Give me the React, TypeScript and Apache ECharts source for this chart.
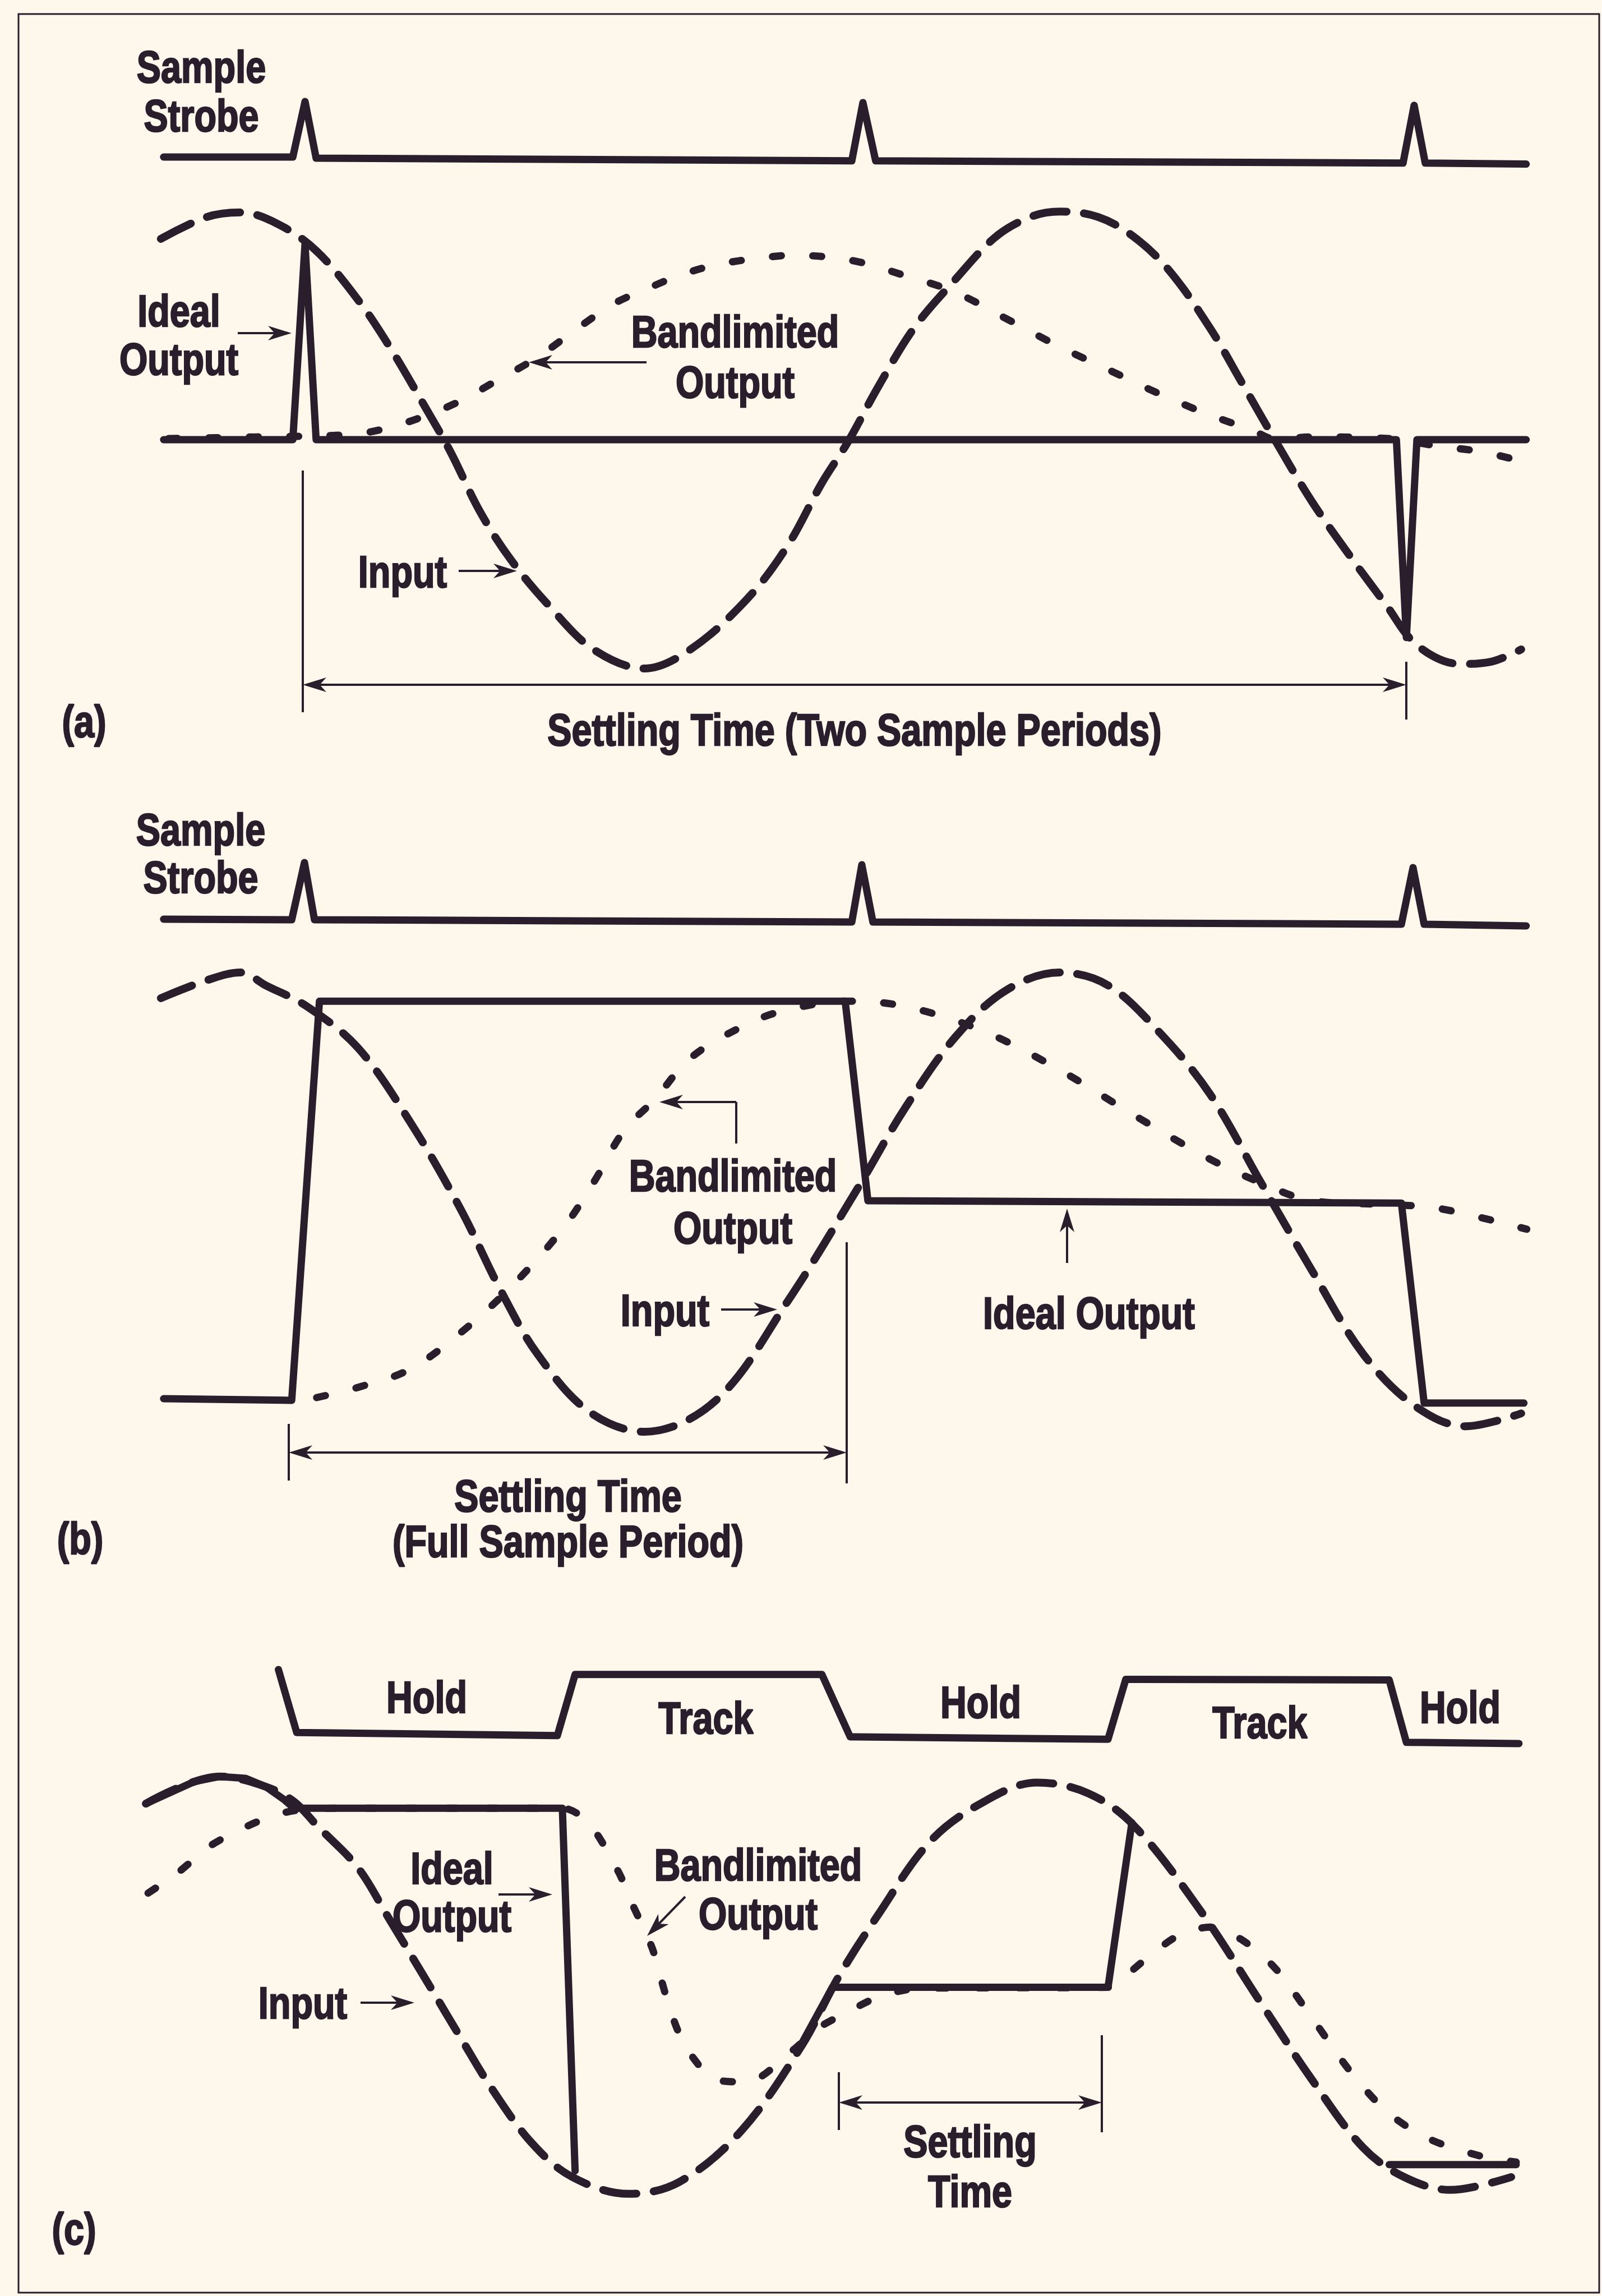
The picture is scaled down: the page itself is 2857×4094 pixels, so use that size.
import React, { useEffect, useRef } from 'react';
import * as echarts from 'echarts';

const W = 2857;
const H = 4094;
const INK = '#2b1e2c';
const PAPER = '#fdf7ec';
const FONT_FAMILY = '"Liberation Sans", Arial, sans-serif';
const FONT_SIZE = 79;
const CONDENSE = 0.82;

// Time in sample periods (sample strobes at t = 0, 1, 2); amplitude normalised to the input.
const T_MIN = -0.5;
const T_MAX = 2.3;

// ---------- Panel (a): settling time of two sample periods ----------
const strobeA = [[-0.254, 0], [-0.021, 0], [0.001, 1.02], [0.021, -0.02], [0.987, -0.07], [1.007, 1.0], [1.03, -0.07], [1.981, -0.11], [2.001, 0.95], [2.021, -0.11], [2.203, -0.13]];
const inputA = [[-0.259, 0.882], [-0.176, 0.978], [-0.115, 0.998], [-0.047, 0.946], [0.022, 0.828], [0.096, 0.616], [0.152, 0.414], [0.216, 0.15], [0.263, -0.052], [0.317, -0.318], [0.373, -0.53], [0.442, -0.732], [0.521, -0.921], [0.613, -1.005], [0.696, -0.921], [0.798, -0.7], [0.871, -0.466], [0.933, -0.19], [0.98, -0.01], [1.035, 0.234], [1.099, 0.49], [1.173, 0.702], [1.247, 0.892], [1.311, 0.98], [1.362, 1.002], [1.431, 0.978], [1.495, 0.892], [1.559, 0.744], [1.633, 0.49], [1.689, 0.256], [1.752, -0.01], [1.817, -0.273], [1.891, -0.53], [1.955, -0.741], [1.992, -0.869], [2.037, -0.953], [2.084, -0.985], [2.14, -0.975], [2.194, -0.921]];
const bandlimitedA = [[-0.245, 0.005], [-0.088, 0.012], [0.078, 0.022], [0.143, 0.047], [0.216, 0.103], [0.281, 0.17], [0.337, 0.246], [0.42, 0.362], [0.493, 0.49], [0.557, 0.596], [0.613, 0.658], [0.677, 0.722], [0.742, 0.768], [0.816, 0.796], [0.881, 0.81], [0.989, 0.786], [1.081, 0.722], [1.173, 0.648], [1.265, 0.532], [1.357, 0.414], [1.449, 0.308], [1.541, 0.202], [1.633, 0.108], [1.707, 0.044], [1.752, 0.002], [1.817, 0.012], [1.955, 0.005], [2.048, -0.03], [2.12, -0.052], [2.194, -0.094]];
const idealA = [[-0.254, 0], [-0.021, 0], [0.001, 0.86], [0.021, 0], [1.969, 0], [1.987, -0.869], [2.006, 0], [2.203, 0]];

// ---------- Panel (b): settling time of a full sample period ----------
const strobeB = [[-0.254, 0.04], [-0.023, 0.03], [0.0, 1.05], [0.018, 0.03], [0.987, -0.01], [1.005, 1.01], [1.025, -0.01], [1.978, -0.05], [1.999, 0.96], [2.019, -0.05], [2.203, -0.08]];
const inputB = [[-0.259, 0.888], [-0.176, 0.966], [-0.115, 1.0], [-0.07, 0.944], [0.004, 0.853], [0.096, 0.673], [0.189, 0.355], [0.281, -0.028], [0.355, -0.39], [0.42, -0.661], [0.512, -0.91], [0.613, -1.0], [0.742, -0.863], [0.871, -0.433], [0.998, 0.062], [1.081, 0.402], [1.173, 0.717], [1.265, 0.922], [1.362, 1.0], [1.449, 0.944], [1.541, 0.741], [1.633, 0.47], [1.725, 0.084], [1.817, -0.299], [1.909, -0.661], [2.001, -0.885], [2.093, -0.976], [2.194, -0.92]];
const bandlimitedB = [[0.022, -0.851], [0.096, -0.807], [0.189, -0.729], [0.281, -0.57], [0.373, -0.368], [0.465, -0.118], [0.521, 0.084], [0.576, 0.311], [0.631, 0.446], [0.696, 0.627], [0.788, 0.763], [0.862, 0.832], [0.98, 0.875], [1.081, 0.853], [1.218, 0.751], [1.357, 0.582], [1.495, 0.38], [1.633, 0.187], [1.725, 0.084], [1.817, 0.006], [1.959, -0.011], [2.047, -0.028], [2.204, -0.118]];
const idealB = [[-0.254, -0.856], [-0.023, -0.863], [0.027, 0.875], [0.975, 0.875], [1.016, 0.006], [1.978, -0.004], [2.019, -0.875], [2.199, -0.875]];

// ---------- Panel (c): track-and-hold ----------
const trackHoldC = [[-0.047, 1.11], [-0.014, 0.08], [0.456, 0.03], [0.488, 1.03], [0.933, 1.03], [0.984, 0.01], [1.449, -0.03], [1.481, 0.95], [1.956, 0.94], [1.987, -0.08], [2.19, -0.1]];
const inputC = [[-0.286, 0.876], [-0.153, 1.007], [-0.07, 0.958], [-0.019, 0.886], [0.022, 0.772], [0.096, 0.568], [0.152, 0.323], [0.226, -0.005], [0.281, -0.251], [0.337, -0.496], [0.41, -0.762], [0.483, -0.926], [0.585, -1.007], [0.677, -0.948], [0.788, -0.702], [0.897, -0.29], [0.962, 0.035], [1.035, 0.342], [1.127, 0.69], [1.219, 0.876], [1.321, 0.978], [1.413, 0.926], [1.495, 0.772], [1.615, 0.362], [1.725, -0.087], [1.817, -0.457], [1.909, -0.784], [1.983, -0.926], [2.066, -0.988], [2.176, -0.926]];
const bandlimitedC = [[-0.282, 0.444], [-0.226, 0.548], [-0.171, 0.67], [-0.115, 0.752], [-0.061, 0.814], [-0.014, 0.844], [0.058, 0.854], [0.465, 0.854], [0.512, 0.784], [0.566, 0.548], [0.589, 0.404], [0.627, 0.179], [0.65, -0.035], [0.672, -0.211], [0.696, -0.333], [0.742, -0.457], [0.797, -0.467], [0.881, -0.313], [0.924, -0.211], [0.98, -0.129], [1.035, -0.057], [1.109, -0.015], [1.449, -0.01], [1.467, 0.015], [1.523, 0.139], [1.577, 0.241], [1.633, 0.28], [1.689, 0.221], [1.752, 0.077], [1.817, -0.159], [1.891, -0.434], [1.956, -0.62], [2.028, -0.742], [2.12, -0.824], [2.185, -0.854]];
const idealC1 = [[-0.286, 0.876], [-0.245, 0.926], [-0.198, 0.983], [-0.153, 1.007], [-0.106, 0.998], [-0.07, 0.958], [-0.037, 0.896], [-0.019, 0.854], [0.465, 0.854], [0.488, -0.896]];
const idealC2 = [[0.897, -0.28], [0.952, -0.01], [1.449, -0.01], [1.492, 0.784]];
const idealC3 = [[1.956, -0.866], [2.185, -0.866]];

// ---------- Labels: [text, centre x, centre y, line spacing] ----------
const labelsA = [['Sample\nStrobe', 359, 163, 87], ['Ideal\nOutput', 319, 598, 86], ['Bandlimited\nOutput', 1311, 637, 90], ['Input', 718, 1020, 0], ['(a)', 150, 1287, 0], ['Settling Time (Two Sample Periods)', 1524, 1302, 0]];
const labelsB = [['Sample\nStrobe', 358, 1522, 85], ['Bandlimited\nOutput', 1307, 2143, 93], ['Input', 1186, 2337, 0], ['Ideal Output', 1942, 2342, 0], ['Settling Time\n(Full Sample Period)', 1013, 2708, 81], ['(b)', 143, 2744, 0]];
const labelsC = [['Hold', 761, 3027, 0], ['Track', 1259, 3064, 0], ['Hold', 1749, 3036, 0], ['Track', 2247, 3072, 0], ['Hold', 2604, 3045, 0], ['Ideal\nOutput', 806, 3374, 85], ['Bandlimited\nOutput', 1352, 3369, 87], ['Input', 540, 3572, 0], ['(c)', 132, 3975, 0], ['Settling\nTime', 1730, 3863, 89]];

// pointer arrows: [x1, y1, x2, y2, headAtStart, headAtEnd]
const arrows = [
  [424, 594, 520, 594, false, true],
  [1153, 646, 943, 646, false, true],
  [818, 1018, 922, 1018, false, true],
  [540, 1221, 2508, 1221, true, true],
  [1313, 1965, 1176, 1965, false, true],
  [1286, 2335, 1386, 2335, false, true],
  [1903, 2252, 1903, 2155, false, true],
  [515, 2590, 1510, 2590, true, true],
  [889, 3378, 985, 3378, false, true],
  [1222, 3382, 1154, 3452, false, true],
  [643, 3571, 739, 3571, false, true],
  [1496, 3749, 1965, 3749, true, true],
];
// plain thin lines (dimension ticks, bent leader)
const thinLines = [
  [540, 839, 540, 1270],
  [2508, 1180, 2508, 1283],
  [1313, 2039, 1313, 1965],
  [515, 2539, 515, 2640],
  [1510, 2215, 1510, 2645],
  [1496, 3695, 1496, 3798],
  [1965, 3629, 1965, 3802],
];

const GRID_LEFT = 48.5;
const GRID_WIDTH = 2769.2;
const gridLayout = [
  { top: 86, height: 291, min: -1, max: 2 },
  { top: 175, height: 1218, min: -1.5, max: 1.5 },
  { top: 1443, height: 300, min: -1, max: 2 },
  { top: 1529.25, height: 1228.5, min: -1.5, max: 1.5 },
  { top: 2880, height: 327, min: -1, max: 2 },
  { top: 2985.5, height: 1209, min: -1.5, max: 1.5 },
];

function arrowEls(a: any[]) {
  const [x1, y1, x2, y2, hs, he] = a;
  const dx = x2 - x1, dy = y2 - y1;
  const L = Math.hypot(dx, dy);
  const ux = dx / L, uy = dy / L;
  const px = -uy, py = ux;
  const hl = 42, hw = 13;
  const els: any[] = [];
  let sx = x1, sy = y1, ex = x2, ey = y2;
  const head = (tx: number, ty: number, vx: number, vy: number) => ({
    type: 'polygon',
    silent: true,
    shape: {
      points: [
        [tx, ty],
        [tx - vx * hl + px * hw, ty - vy * hl + py * hw],
        [tx - vx * hl * 0.72, ty - vy * hl * 0.72],
        [tx - vx * hl - px * hw, ty - vy * hl - py * hw],
      ],
    },
    style: { fill: INK },
  });
  if (he) {
    els.push(head(x2, y2, ux, uy));
    ex = x2 - ux * hl * 0.6;
    ey = y2 - uy * hl * 0.6;
  }
  if (hs) {
    els.push(head(x1, y1, -ux, -uy));
    sx = x1 + ux * hl * 0.6;
    sy = y1 + uy * hl * 0.6;
  }
  els.push({ type: 'line', silent: true, shape: { x1: sx, y1: sy, x2: ex, y2: ey }, style: { stroke: INK, lineWidth: 4 } });
  return els;
}

export default function App() {
  const ref = useRef<HTMLDivElement>(null);
  useEffect(() => {
    if (!ref.current) return;
    const chart = echarts.init(ref.current, undefined, { renderer: 'svg', width: W, height: H });

    const solid = { color: INK, width: 13, cap: 'round', join: 'round' };
    const dashed = { color: INK, width: 14, type: [60, 31], cap: 'round', join: 'round' };
    const dotted = { color: INK, width: 13, type: [16, 56], cap: 'round', join: 'round' };

    const mk = (idx: number, data: number[][], lineStyle: any, smooth: any = false) => ({
      type: 'line',
      xAxisIndex: idx,
      yAxisIndex: idx,
      data,
      smooth,
      showSymbol: false,
      symbol: 'none',
      clip: false,
      silent: true,
      lineStyle,
    });

    const texts = [...labelsA, ...labelsB, ...labelsC].map((l: any) => ({
      type: 'text',
      silent: true,
      x: l[1],
      y: l[2],
      scaleX: CONDENSE,
      style: {
        text: l[0],
        fill: INK,
        stroke: INK,
        lineWidth: 2.5,
        fontFamily: FONT_FAMILY,
        fontWeight: 'bold',
        fontSize: FONT_SIZE,
        lineHeight: l[3] || FONT_SIZE,
        align: 'center',
        verticalAlign: 'middle',
      },
    }));

    const graphic: any[] = [
      { type: 'rect', silent: true, shape: { x: 33, y: 25, width: 2819, height: 4063 }, style: { fill: 'none', stroke: INK, lineWidth: 3 } },
      ...thinLines.map((t) => ({ type: 'line', silent: true, shape: { x1: t[0], y1: t[1], x2: t[2], y2: t[3] }, style: { stroke: INK, lineWidth: 4 } })),
      ...arrows.flatMap((a) => arrowEls(a)),
      ...texts,
    ];

    chart.setOption({
      animation: false,
      backgroundColor: PAPER,
      grid: gridLayout.map((g) => ({ left: GRID_LEFT, width: GRID_WIDTH, top: g.top, height: g.height })),
      xAxis: gridLayout.map((g, i) => ({ type: 'value', gridIndex: i, min: T_MIN, max: T_MAX, show: false, splitLine: { show: false } })),
      yAxis: gridLayout.map((g, i) => ({ type: 'value', gridIndex: i, min: g.min, max: g.max, show: false, splitLine: { show: false } })),
      series: [
        mk(0, strobeA, solid),
        mk(1, bandlimitedA, dotted, 0.35),
        mk(1, inputA, dashed, 0.35),
        mk(1, idealA, solid),
        mk(2, strobeB, solid),
        mk(3, bandlimitedB, dotted, 0.35),
        mk(3, inputB, dashed, 0.35),
        mk(3, idealB, solid),
        mk(4, trackHoldC, solid),
        mk(5, bandlimitedC, dotted, 0.3),
        mk(5, inputC, dashed, 0.35),
        mk(5, idealC1, solid),
        mk(5, idealC2, solid),
        mk(5, idealC3, solid),
      ],
      graphic,
    });
    return () => chart.dispose();
  }, []);
  return <div ref={ref} style={{ position: 'absolute', left: 0, top: 0, width: W, height: H }} />;
}
